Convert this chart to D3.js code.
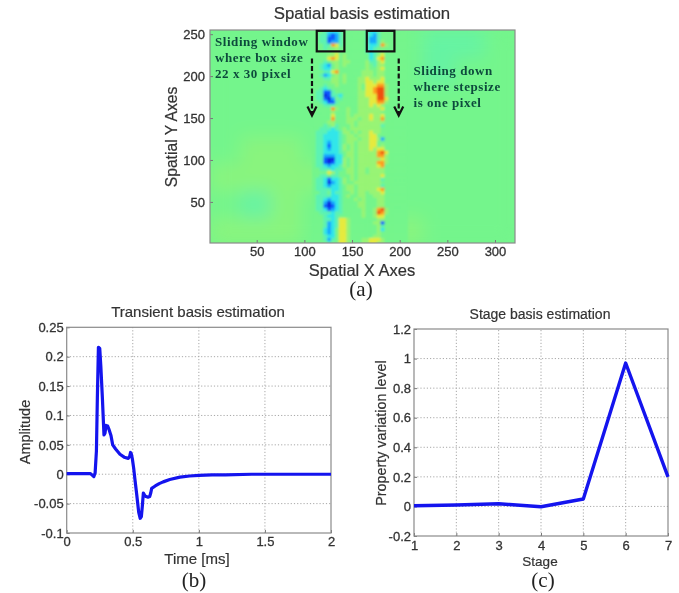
<!DOCTYPE html>
<html><head><meta charset="utf-8">
<style>html,body{margin:0;background:#fff}svg{display:block;filter:blur(.4px)}text{font-family:"Liberation Sans",sans-serif;fill:#333}</style>
<script src="https://cdnjs.cloudflare.com/ajax/libs/d3/7.8.5/d3.min.js"></script></head>
<body><svg id="c" width="679" height="593"></svg>
<script>
// ---- data ----
const levelColors=['#0a20e0','#1058ff','#14a8ff','#30e6ea','#5cf2b4','#74f58c','#98f474','#e6ea3c','#ff9a1e','#f0500f'];
const coarseX0=1, coarseXStep=32, coarseY0=255, coarseYStep=32;
const coarseRows=[
 "5555555445",
 "5555555455",
 "5555555555",
 "5555555555",
 "5665555555",
 "6666555555",
 "5465555555",
 "6665556555"];
const fineX0=108, fineXStep=4, fineY0=255, fineYStep=4;
const fineRows=[
 "555 43334 555555 433455 55555",
 "554 42124 555555 432455 55555",
 "554 41124 555555 422455 55555",
 "554 41224 555555 422465 55555",
 "555 44874 555555 433486 55555",
 "555 45565 555555 434555 55555",
 "555 55665 555555 434565 55555",
 "555 56675 655555 534675 55555",
 "555 57875 655555 534785 55555",
 "555 45665 665555 644675 55555",
 "554 32565 655555 654665 55555",
 "554 33565 555555 655675 55555",
 "555 44785 555556 665665 55555",
 "554 23565 655556 665665 55555",
 "555 44665 655566 766675 55555",
 "555 55665 655566 776775 55555",
 "555 45565 555565 777886 55555",
 "554 34555 555565 778996 55555",
 "544 11455 555566 778996 55555",
 "544 01443 555566 777996 55555",
 "544 10254 555566 677997 55555",
 "554 31145 555566 677886 55555",
 "555 44455 555566 676765 55555",
 "555 55865 565566 666675 55555",
 "555 55655 565566 666655 55555",
 "555 55755 565666 676675 55555",
 "555 55855 566656 676685 55555",
 "555 56655 566566 666665 55555",
 "555 45645 556566 666645 55555",
 "554 44345 656666 666655 55555",
 "544 43334 665656 676655 55555",
 "544 33334 566566 677555 55555",
 "544 33334 566656 677625 55555",
 "544 32334 566566 677555 55555",
 "544 31334 656566 677565 55555",
 "544 32334 656566 676775 55555",
 "544 33334 566566 666897 55555",
 "544 22233 566566 666886 55555",
 "544 10033 656566 666676 55555",
 "544 10133 656566 666886 55555",
 "544 32334 656566 666785 55555",
 "554 44344 566566 566665 55555",
 "555 57645 566566 566665 55555",
 "554 45445 556566 666675 55555",
 "544 31334 656566 666645 55555",
 "544 30234 655666 666655 55555",
 "544 32334 566566 666645 55555",
 "544 44334 566566 666785 55555",
 "554 45344 556566 566675 55555",
 "544 44334 565566 556665 55555",
 "544 32334 555656 555665 55555",
 "544 20234 555566 555665 55555",
 "544 10134 555566 555665 55555",
 "544 31234 555556 556896 55555",
 "554 44344 555556 556986 55555",
 "555 43345 555556 556775 55555",
 "555 44347 765555 555665 55555",
 "555 42347 765555 556615 55555",
 "555 42347 765555 555645 55555",
 "555 32357 765555 555635 55555",
 "555 32357 765555 555655 55555",
 "555 43357 765555 556655 55555",
 "555 42457 765556 677765 55555",
 "555 54557 765556 677665 55555"].map(r=>r.replace(/ /g,''));
const spatialXTicks=[50,100,150,200,250,300], spatialYTicks=[50,100,150,200,250];
const boxXStarts=[113,165.5], boxWidth=29, boxYTop=254, boxHeight=24.5;
const arrowXs=[108,199], arrowYFrom=221, arrowYTo=153;
const noteLeft=["Sliding window","where box size","22 x 30 pixel"];
const noteRight=["Sliding down","where stepsize","is one pixel"];
const transientT=[0,.05,.1,.15,.18,.195,.205,.215,.225,.232,.24,.25,.258,.27,.282,.29,.297,.31,.322,.335,.348,.37,.403,.435,.466,.476,.483,.49,.497,.507,.517,.53,.545,.556,.565,.572,.58,.59,.6,.615,.628,.636,.643,.67,.7,.73,.78,.857,.93,1,1.1,1.2,1.4,1.5,1.7,2];
const transientA=[.001,.001,.001,.001,.001,-.002,-.004,.002,.04,.13,.216,.214,.185,.13,.067,.07,.083,.082,.075,.066,.05,.043,.034,.029,.027,.03,.037,.034,.026,.01,-.01,-.035,-.065,-.075,-.072,-.055,-.032,-.036,-.038,-.039,-.038,-.032,-.024,-.02,-.016,-.013,-.009,-.005,-.003,-.002,-.001,-.001,0,0,0,0];
const stages=[1,2,3,4,5,6,7], stageValues=[.005,.01,.018,-.002,.05,.97,.2];
const bXTicks=[0,.5,1,1.5,2], bYTicks=[-.1,-.05,0,.05,.1,.15,.2,.25];
const cYTicks=[-.2,0,.2,.4,.6,.8,1,1.2];

// ---- drawing ----
const svg=d3.select('#c');
const defs=svg.append('defs');
defs.append('filter').attr('id','soft').attr('x','-5%').attr('y','-5%').attr('width','110%').attr('height','110%')
 .append('feGaussianBlur').attr('stdDeviation',1.2);
defs.append('filter').attr('id','softer').attr('x','-20%').attr('y','-20%').attr('width','140%').attr('height','140%')
 .append('feGaussianBlur').attr('stdDeviation',9);
defs.append('clipPath').attr('id','hclip').append('rect').attr('x',210).attr('y',30).attr('width',305).attr('height',213);
const col=d3.scaleLinear().domain(d3.range(10)).range(levelColors);
const hx=d3.scaleLinear().domain([1,321]).range([210,515]);
const hy=d3.scaleLinear().domain([1,255]).range([243,30]);
const hg=svg.append('g').attr('clip-path','url(#hclip)');
hg.append('rect').attr('x',hx(1)).attr('y',hy(255)).attr('width',hx(321)-hx(1)).attr('height',hy(1)-hy(255)).attr('fill',levelColors[5]);
function cells(parent,rows,x0,xs,y0,ys){
 rows.forEach((r,ri)=>{parent.selectAll(null).data(r.split('').map((v,i)=>({v:+v,i}))).enter().append('rect')
  .attr('x',d=>hx(x0+d.i*xs)).attr('y',hy(y0-ri*ys))
  .attr('width',hx(xs)-hx(0)+.6).attr('height',hy(0)-hy(ys)+.6)
  .attr('fill',d=>col(d.v));});
}
cells(hg.append('g').attr('filter','url(#softer)').attr('opacity',.6),coarseRows,coarseX0,coarseXStep,coarseY0,coarseYStep);
cells(hg.append('g').attr('filter','url(#soft)'),fineRows,fineX0,fineXStep,fineY0,fineYStep);

function grid(x,y,xt,yt){
 const [x0,x1]=x.range(),[y0,y1]=y.range();
 const g=svg.append('g').attr('stroke','#a8a8a8').attr('stroke-width',1).attr('stroke-dasharray','1.2 2');
 g.selectAll(null).data(xt.slice(1,-1)).enter().append('line').attr('x1',x).attr('x2',x).attr('y1',y0).attr('y2',y1);
 g.selectAll(null).data(yt.slice(1,-1)).enter().append('line').attr('x1',x0).attr('x2',x1).attr('y1',y).attr('y2',y);
}
function axes(x,y,xt,yt,xdy,ydx){
 const [x0,x1]=x.range(),[y0,y1]=y.range();
 const gx=svg.append('g').attr('transform',`translate(0,${y0})`).call(d3.axisBottom(x).tickValues(xt).tickFormat(String).tickSize(-3).tickPadding(xdy));
 const gy=svg.append('g').attr('transform',`translate(${x0},0)`).call(d3.axisLeft(y).tickValues(yt).tickFormat(String).tickSize(-3).tickPadding(ydx));
 [gx,gy].forEach(g=>{g.select('.domain').remove();g.selectAll('line').attr('stroke','#777');g.selectAll('text').style('font-family','"Liberation Sans",sans-serif').style('font-size','13px').style('fill','#333').style('stroke','#333').style('stroke-width','.3px');});
 svg.append('rect').attr('x',x0).attr('y',y1).attr('width',x1-x0).attr('height',y0-y1).attr('fill','none').attr('stroke','#8a8a8a').attr('stroke-width',1.2);
}
function label(t,x,y,size,rot,fam){
 const s=svg.append('text').attr('text-anchor','middle').attr('font-size',size).text(t);
 if(rot)s.attr('transform',`translate(${x},${y}) rotate(-90)`);else s.attr('x',x).attr('y',y);
 if(fam)s.style('font-family',fam).style('fill','#222');
 else s.style('stroke','#333').style('stroke-width','.2px');
 return s;
}
// panel a
axes(hx,hy,spatialXTicks,spatialYTicks,4,5);
svg.selectAll('.bx').data(boxXStarts).enter().append('rect').attr('class','bx')
 .attr('x',d=>hx(d)).attr('y',hy(boxYTop)).attr('width',hx(boxWidth)-hx(0)).attr('height',hy(0)-hy(boxHeight))
 .attr('fill','none').attr('stroke','#111').attr('stroke-width',2.2);
arrowXs.forEach(a=>{
 svg.append('line').attr('x1',hx(a)).attr('x2',hx(a)).attr('y1',hy(arrowYFrom)).attr('y2',hy(arrowYTo)-2)
  .attr('stroke','#111').attr('stroke-width',2.2).attr('stroke-dasharray','5 2.5');
 const p=d3.path(),X=hx(a),Y=hy(arrowYTo);
 p.moveTo(X-4.5,Y-9);p.lineTo(X,Y);p.lineTo(X+4.5,Y-9);
 svg.append('path').attr('d',p).attr('fill','none').attr('stroke','#111').attr('stroke-width',2.2);
});
function note(lines,x,y0){lines.forEach((t,i)=>svg.append('text').attr('x',x).attr('y',y0+i*16).attr('font-size',13).attr('font-weight',700).style('font-family','"Liberation Serif",serif').style('letter-spacing','.55px').style('fill','#0d4a3c').text(t));}
note(noteLeft,215,45.5);
note(noteRight,413.5,75);
label('Spatial basis estimation',362,19,16.8);
label('Spatial X Axes',362,276,16.5);
label('Spatial Y Axes',177,137,15.7,true);
label('(a)',361,296,21,false,'"Liberation Serif",serif');

// panel b
const bx=d3.scaleLinear().domain([0,2]).range([66.7,331]);
const by=d3.scaleLinear().domain([-.1,.25]).range([533,327.3]);
grid(bx,by,bXTicks,bYTicks);
axes(bx,by,bXTicks,bYTicks,4,3);
svg.append('path').attr('d',d3.line().x(d=>bx(d)).y((d,i)=>by(transientA[i]))(transientT)).attr('fill','none').attr('stroke','#1414ee').attr('stroke-width',3.2).attr('stroke-linejoin','round');
label('Transient basis estimation',198,317,15);
label('Time [ms]',197,564,15);
label('Amplitude',30,432,14.5,true);
label('(b)',194,587,21,false,'"Liberation Serif",serif');

// panel c
const cx=d3.scaleLinear().domain([1,7]).range([414,668]);
const cy=d3.scaleLinear().domain([-.2,1.2]).range([536,329]);
grid(cx,cy,stages,cYTicks);
axes(cx,cy,stages,cYTicks,5,3);
svg.append('path').attr('d',d3.line().x(d=>cx(d)).y((d,i)=>cy(stageValues[i]))(stages)).attr('fill','none').attr('stroke','#1414ee').attr('stroke-width',3.4).attr('stroke-linejoin','round');
label('Stage basis estimation',540,319,14);
label('Stage',540,566,13.5);
label('Property variation level',386,433,14.3,true);
label('(c)',543,587,21,false,'"Liberation Serif",serif');
</script></body></html>
